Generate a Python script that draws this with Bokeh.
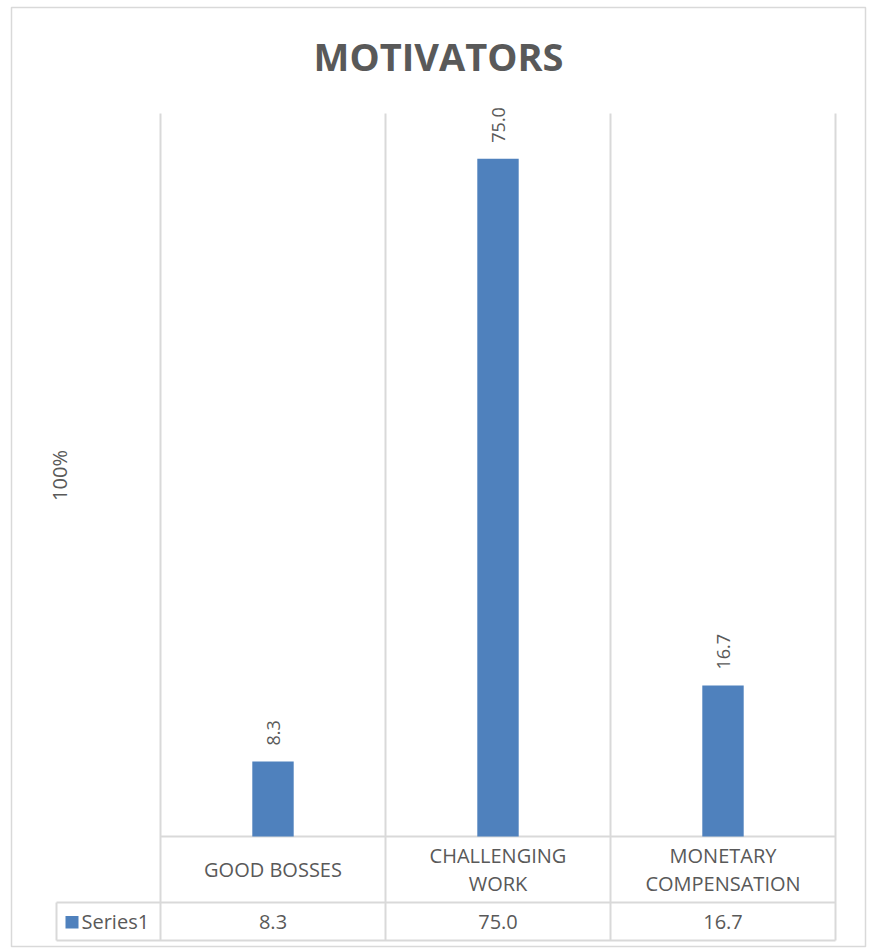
import math
from bokeh.plotting import figure
from bokeh.models import Range1d, ColumnDataSource
from bokeh.core.properties import value
from bokeh.embed import file_html
from bokeh.resources import INLINE

# ---- data ----
title = "MOTIVATORS"
y_axis_title = "100%"
series_name = "Series1"
categories = ["GOOD BOSSES", "CHALLENGING WORK", "MONETARY COMPENSATION"]
values = [8.3, 75.0, 16.7]
y_max = 80

# ---- layout (pixels) ----
W, H = 873, 949
PLOT_L, CAT_W = 160, 225          # left edge of plot area, width per category
PLOT_TOP, BASE = 113, 836         # top of plot area, zero line
ROW1, ROW2 = 902, 940             # table row separators
SER_L = 56                        # left edge of the series cell
BORDER = (11, 7, 865, 946)
BAR_W = 0.184
FONT = value("Open Sans")
TXT = "#595959"
GRID = "#d9d9d9"
BAR = "#4F81BD"

n = len(categories)
k = (BASE - PLOT_TOP) / y_max
def dx(px):
    return -0.5 + (px - PLOT_L) / CAT_W
def dy(px):
    return (BASE - px) / k

p = figure(width=W, height=H, x_range=Range1d(dx(0), dx(W)), y_range=Range1d(dy(H), dy(0)),
           output_backend="svg", toolbar_location=None, min_border=0)
p.axis.visible = False
p.grid.visible = False
p.outline_line_color = None
p.background_fill_color = "white"
p.border_fill_color = "white"

# outer chart border
bl, bt, br, bb = BORDER
p.quad(left=[dx(bl)], right=[dx(br)], top=[dy(bt)], bottom=[dy(bb)],
       fill_color=None, line_color=GRID, line_width=1.5)

# vertical gridlines / table column lines
xs = [i - 0.5 for i in range(n + 1)]
p.segment(x0=xs, x1=xs, y0=[y_max] * len(xs), y1=[dy(ROW2)] * len(xs), line_color=GRID, line_width=2)
# horizontal table lines
p.segment(x0=[-0.5, dx(SER_L), dx(SER_L)], x1=[n - 0.5] * 3,
          y0=[0, dy(ROW1), dy(ROW2)], y1=[0, dy(ROW1), dy(ROW2)], line_color=GRID, line_width=2)
p.segment(x0=[dx(SER_L)], x1=[dx(SER_L)], y0=[dy(ROW1)], y1=[dy(ROW2)], line_color=GRID, line_width=2)

# bars
src = ColumnDataSource(dict(x=list(range(n)), top=values, lab=[f"{v:.1f}" for v in values]))
p.vbar(x="x", top="top", bottom=0, width=BAR_W, source=src, fill_color=BAR, line_color=None)

# data labels (rotated)
p.text(x="x", y="top", text="lab", source=src, angle=math.pi / 2, text_align="left",
       text_baseline="middle", y_offset=-16, text_font=FONT, text_font_size="18px", text_color=TXT)

# title
p.text(x=[dx((bl + br) / 2)], y=[dy(55)], text=[title], text_align="center", text_baseline="middle",
       text_font=FONT, text_font_size="38px", text_font_style="bold", text_color=TXT)

# y axis title
p.text(x=[dx(59)], y=[dy(475)], text=[y_axis_title], angle=math.pi / 2, text_align="center",
       text_baseline="middle", text_font=FONT, text_font_size="20px", text_color=TXT)

# category labels in table header
lx, ly, lt = [], [], []
mid = (BASE + ROW1) / 2
for i, c in enumerate(categories):
    lines = c.split(" ", 1) if len(c) > 12 else [c]
    m = len(lines)
    for j, ln in enumerate(lines):
        lx.append(i)
        ly.append(dy(mid + (j - (m - 1) / 2) * 28))
        lt.append(ln)
p.text(x=lx, y=ly, text=lt, text_align="center", text_baseline="middle",
       text_font=FONT, text_font_size="20px", text_color=TXT)

# value row
vy = dy((ROW1 + ROW2) / 2)
p.text(x=list(range(n)), y=[vy] * n, text=[f"{v:.1f}" for v in values], text_align="center",
       text_baseline="middle", text_font=FONT, text_font_size="20px", text_color=TXT)

# legend key + series name
p.quad(left=[dx(65)], right=[dx(78)], top=[dy(915.5)], bottom=[dy(928)], fill_color=BAR, line_color=None)
p.text(x=[dx(81)], y=[vy], text=[series_name], text_align="left", text_baseline="middle",
       text_font=FONT, text_font_size="20px", text_color=TXT)

open("out.html", "w").write(file_html(p, INLINE))
